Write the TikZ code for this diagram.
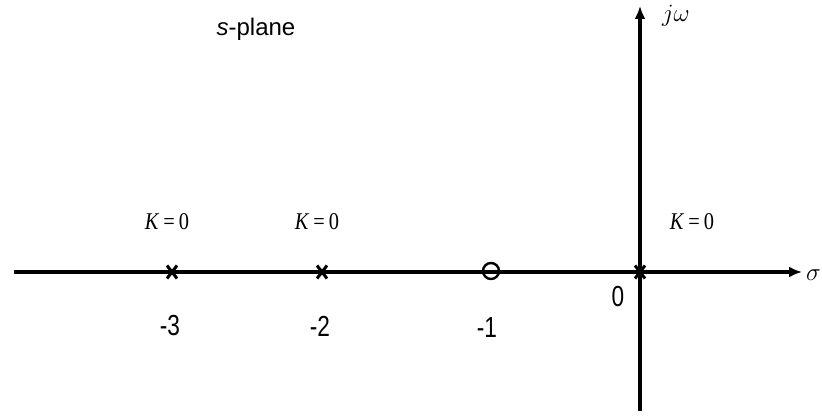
\documentclass[tikz,border=0pt]{standalone}
\usepackage{fontspec}
\setmainfont{Liberation Serif}
\setsansfont{Liberation Sans}
\newfontfamily\narrowsans[FakeStretch=0.78]{Liberation Sans}
\newfontfamily\narrowserif[FakeStretch=0.85]{Liberation Serif}
\usetikzlibrary{arrows.meta}
\begin{document}
\begin{tikzpicture}[x=1pt,y=-1pt,
  axis/.style={line width=3.2pt,-{Latex[length=13pt,width=11pt]}},
  polemark/.style={line width=3pt},
  numlbl/.style={font=\narrowsans\fontsize{29}{29}\selectfont},
  klbl/.style={font=\narrowserif\fontsize{24}{24}\selectfont}]
\useasboundingbox (0,0) rectangle (822,417);
\coordinate (xl) at (14,272);
\coordinate (xr) at (802,272);
\coordinate (yb) at (640,411);
\coordinate (yt) at (640,6);
\draw[axis] (xl) -- (xr);
\draw[axis] (yb) -- (yt);
\node[anchor=west,inner sep=0pt] (sig) at (806,275) {\fontsize{24}{24}\selectfont$\sigma$};
\node[anchor=west,inner sep=0pt] (jw) at (662,16) {\fontsize{23}{23}\selectfont$j\omega$};
\node[font=\sffamily\fontsize{24}{24}\selectfont] (sp) at (256,29) {\textit{s}-plane};
% poles
\foreach \n/\x in {p3/172,p2/322,p0/640}{
  \coordinate (\n) at (\x,272);
  \draw[polemark] ([shift={(-5,-6.5)}]\n) -- ([shift={(5,6.5)}]\n);
  \draw[polemark] ([shift={(-5,6.5)}]\n) -- ([shift={(5,-6.5)}]\n);
}
\node[draw,circle,line width=2.4pt,minimum size=16pt,inner sep=0pt] (z1) at (491,271) {};
% labels
\node[klbl] (k3) at (167,222) {\textit{K}\,=\,0};
\node[klbl] (k2) at (317,222) {\textit{K}\,=\,0};
\node[klbl] (k0) at (692,222) {\textit{K}\,=\,0};
\node[numlbl] (l3) at (170,326) {-3};
\node[numlbl] (l2) at (320,326) {-2};
\node[numlbl] (l1) at (487,328) {-1};
\node[numlbl] (l0) at (618,297) {0};
\end{tikzpicture}
\end{document}
